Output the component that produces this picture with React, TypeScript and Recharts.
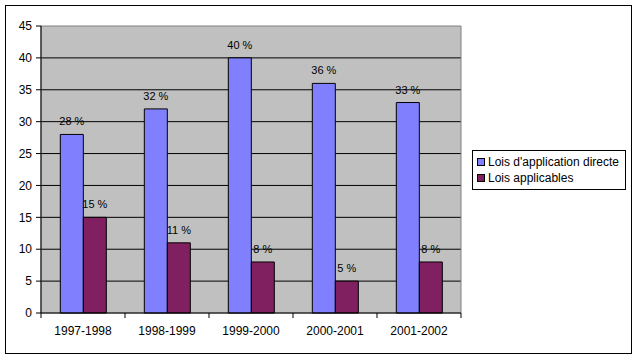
import { BarChart, Bar, XAxis, YAxis, CartesianGrid, LabelList, ReferenceArea } from 'recharts'

const years = ['1997-1998', '1998-1999', '1999-2000', '2000-2001', '2001-2002']
const directe = [28, 32, 40, 36, 33]
const applicables = [15, 11, 8, 5, 8]
const yTicks = [0, 5, 10, 15, 20, 25, 30, 35, 40, 45]
const boundaryTicks = [0, 1, 2, 3, 4, 5]

const BLUE = '#8080FF'
const PURPLE = '#802060'
const FONT = '"Liberation Sans", Arial, sans-serif'

const data = years.map((y, i) => ({ year: y, directe: directe[i], applicables: applicables[i], pos: i + 0.5 }))

function LegendBox() {
  const items = [
    { label: "Lois d'application directe", color: BLUE },
    { label: 'Lois applicables', color: PURPLE },
  ]
  return (
    <div style={{ position: 'absolute', left: 472, top: 150, border: '1px solid #000', background: '#fff', width: 154, height: 40, padding: '3px 0 0 4px', boxSizing: 'border-box', fontFamily: FONT, fontSize: 12 }}>
      {items.map(it => (
        <div key={it.label} style={{ display: 'flex', alignItems: 'center', height: 16, color: '#000', whiteSpace: 'nowrap' }}>
          <span style={{ display: 'inline-block', width: 6, height: 6, background: it.color, border: '1px solid #000', marginRight: 3 }} />
          {it.label}
        </div>
      ))}
    </div>
  )
}

const pct = (v: number) => `${v}\u00a0%`

export default function App() {
  return (
    <div style={{ position: 'absolute', left: 0, top: 0, width: 637, height: 358, background: '#fff' }}>
      <div style={{ position: 'absolute', left: 5, top: 5, width: 625, height: 347, border: '1px solid #000' }} />
      <div style={{ position: 'absolute', left: 0, top: 0 }}>
        <BarChart
          width={637}
          height={358}
          data={data}
          margin={{ top: 26, right: 176, bottom: 0, left: 0 }}
          barCategoryGap="23%"
          barGap={0}
          style={{ fontFamily: FONT }}
        >
          <CartesianGrid xAxisId={1} vertical={false} stroke="#000" fill="#C0C0C0" horizontalValues={[5, 10, 15, 20, 25, 30, 35, 40]} />
          <ReferenceArea xAxisId={1} y1={0} y2={45} stroke="#808080" fillOpacity={0} />
          <XAxis
            xAxisId={0}
            type="number"
            dataKey="pos"
            domain={[0, 5]}
            ticks={boundaryTicks}
            interval={0}
            tick={{ fontSize: 1, fill: 'none' }}
            tickSize={5}
            tickLine={{ stroke: '#000', strokeWidth: 1 }}
            axisLine={{ stroke: '#000' }}
            height={1}
          />
          <XAxis
            dataKey="year"
            xAxisId={1}
            interval={0}
            tickLine={false}
            axisLine={false}
            tickSize={0}
            tick={{ fontSize: 12, fill: '#000' }}
            tickMargin={12}
            height={44}
          />
          <YAxis
            domain={[0, 45]}
            ticks={yTicks}
            interval={0}
            tickSize={5}
            tickLine={{ stroke: '#000' }}
            axisLine={{ stroke: '#000' }}
            tick={{ fontSize: 12, fill: '#000' }}
            tickMargin={4}
            width={41}
          />
          <Bar dataKey="directe" xAxisId={1} fill={BLUE} stroke="#000" strokeWidth={1} isAnimationActive={false}>
            <LabelList dataKey="directe" position="top" offset={9} formatter={pct} style={{ fontSize: 11, fill: '#000' }} />
          </Bar>
          <Bar dataKey="applicables" xAxisId={1} fill={PURPLE} stroke="#000" strokeWidth={1} isAnimationActive={false}>
            <LabelList dataKey="applicables" position="top" offset={9} formatter={pct} style={{ fontSize: 11, fill: '#000' }} />
          </Bar>
        </BarChart>
      </div>
      <LegendBox />
    </div>
  )
}
